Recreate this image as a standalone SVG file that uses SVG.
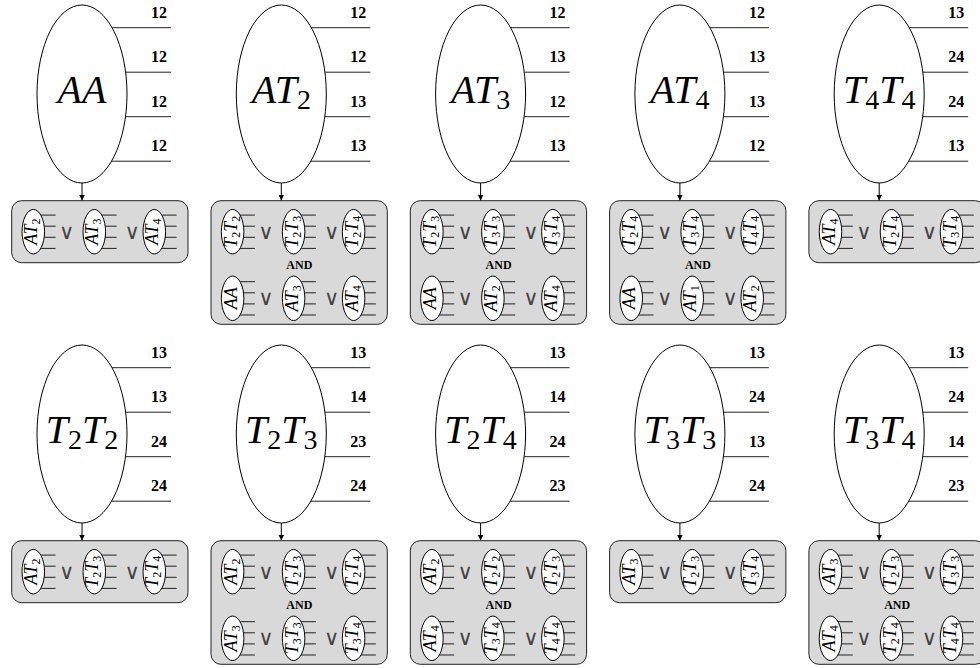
<svg xmlns="http://www.w3.org/2000/svg" xmlns:xlink="http://www.w3.org/1999/xlink" width="980" height="668" viewBox="0 0 980 668">
<style>
text{font-family:"Liberation Serif","Times New Roman",Times,serif}
.big{font-style:italic;font-size:40px;text-anchor:middle;fill:#000}
.bs{font-style:normal;font-size:28px}
.lbl{font-weight:bold;font-size:16px;text-anchor:end;fill:#000}
.sm{font-style:italic;font-size:18px;text-anchor:middle;fill:#000}
.ss{font-style:normal;font-size:12px}
.or{font-family:"DejaVu Sans",sans-serif;font-size:21px;text-anchor:middle;fill:#444}
.and{font-weight:bold;font-size:12px;text-anchor:middle;fill:#000}
.box{fill:#d9d9d9;stroke:#222;stroke-width:1}
.conn line{stroke:#000;stroke-width:1}
</style>
<defs>
<marker id="ah" markerUnits="userSpaceOnUse" markerWidth="6" markerHeight="6" refX="6" refY="3" orient="auto"><path d="M0,0L6,3L0,6z" fill="#000"/></marker>
<g id="big"><ellipse cx="82" cy="94" rx="45" ry="89" fill="#fff" stroke="#000" stroke-width="1"/><path d="M112,27.7H171M125.6,72.2H171M125.5,116.7H171M111.5,161.2H171" stroke="#222" stroke-width="1" fill="none"/></g>
<g id="sm"><ellipse rx="11.25" ry="22.25" fill="#fff" stroke="#000" stroke-width="1"/><path d="M7.5,-16.6H22.3M10.9,-5.5H22.3M10.8,5.6H22.3M7.4,16.7H22.3" stroke="#222" stroke-width="1" fill="none"/></g>
<g id="sbox"><rect class="box" x="11.7" y="200.7" width="176.3" height="62" rx="10"/><text class="or" x="66.7" y="238.5">∨</text><text class="or" x="132.3" y="238.5">∨</text><use xlink:href="#sm" x="33.3" y="231.7"/><use xlink:href="#sm" x="94.3" y="231.7"/><use xlink:href="#sm" x="154.3" y="231.7"/></g>
<g id="abox"><rect class="box" x="11.7" y="200.7" width="176.3" height="123.6" rx="10"/><text class="or" x="66.7" y="238.5">∨</text><text class="or" x="132.3" y="238.5">∨</text><text class="or" x="66.7" y="305.1">∨</text><text class="or" x="132.3" y="305.1">∨</text><text class="and" x="100" y="268.5">AND</text><use xlink:href="#sm" x="33.3" y="231.7"/><use xlink:href="#sm" x="94.3" y="231.7"/><use xlink:href="#sm" x="154.3" y="231.7"/><use xlink:href="#sm" x="33.3" y="298.3"/><use xlink:href="#sm" x="94.3" y="298.3"/><use xlink:href="#sm" x="154.3" y="298.3"/></g>
</defs>
<rect width="980" height="668" fill="#fff"/>

<g class="conn" id="connectors">
<line x1="82" y1="183" x2="82" y2="200.5" marker-end="url(#ah)"/>
<line x1="281.3" y1="183" x2="281.3" y2="200.5" marker-end="url(#ah)"/>
<line x1="480.6" y1="183" x2="480.6" y2="200.5" marker-end="url(#ah)"/>
<line x1="679.9" y1="183" x2="679.9" y2="200.5" marker-end="url(#ah)"/>
<line x1="879.2" y1="183" x2="879.2" y2="200.5" marker-end="url(#ah)"/>
<line x1="82" y1="523" x2="82" y2="540.5" marker-end="url(#ah)"/>
<line x1="281.3" y1="523" x2="281.3" y2="540.5" marker-end="url(#ah)"/>
<line x1="480.6" y1="523" x2="480.6" y2="540.5" marker-end="url(#ah)"/>
<line x1="679.9" y1="523" x2="679.9" y2="540.5" marker-end="url(#ah)"/>
<line x1="879.2" y1="523" x2="879.2" y2="540.5" marker-end="url(#ah)"/>
</g>

<!-- Row 1 -->
<g id="node-AA" transform="translate(0,0)">
<use xlink:href="#big"/>
<text class="big" x="82" y="103">AA</text>
<text class="lbl" x="167" y="18">12</text><text class="lbl" x="167" y="62.3">12</text><text class="lbl" x="167" y="106.7">12</text><text class="lbl" x="167" y="151.2">12</text>
</g>
<g id="box-AA" transform="translate(0,0)">
<use xlink:href="#sbox"/>
<text class="sm" transform="translate(33.3,231.7) rotate(-90)" y="4">AT<tspan class="ss" dy="3">2</tspan></text>
<text class="sm" transform="translate(94.3,231.7) rotate(-90)" y="4">AT<tspan class="ss" dy="3">3</tspan></text>
<text class="sm" transform="translate(154.3,231.7) rotate(-90)" y="4">AT<tspan class="ss" dy="3">4</tspan></text>
</g>

<g id="node-AT2" transform="translate(199.3,0)">
<use xlink:href="#big"/>
<text class="big" x="82" y="103">AT<tspan class="bs" dy="6">2</tspan></text>
<text class="lbl" x="167" y="18">12</text><text class="lbl" x="167" y="62.3">12</text><text class="lbl" x="167" y="106.7">13</text><text class="lbl" x="167" y="151.2">13</text>
</g>
<g id="box-AT2" transform="translate(199.3,0)">
<use xlink:href="#abox"/>
<text class="sm" transform="translate(33.3,231.7) rotate(-90)" y="4">T<tspan class="ss" dy="3">2</tspan><tspan dy="-3">T</tspan><tspan class="ss" dy="3">2</tspan></text>
<text class="sm" transform="translate(94.3,231.7) rotate(-90)" y="4">T<tspan class="ss" dy="3">2</tspan><tspan dy="-3">T</tspan><tspan class="ss" dy="3">3</tspan></text>
<text class="sm" transform="translate(154.3,231.7) rotate(-90)" y="4">T<tspan class="ss" dy="3">2</tspan><tspan dy="-3">T</tspan><tspan class="ss" dy="3">4</tspan></text>
<text class="sm" transform="translate(33.3,298.3) rotate(-90)" y="4">AA</text>
<text class="sm" transform="translate(94.3,298.3) rotate(-90)" y="4">AT<tspan class="ss" dy="3">3</tspan></text>
<text class="sm" transform="translate(154.3,298.3) rotate(-90)" y="4">AT<tspan class="ss" dy="3">4</tspan></text>
</g>

<g id="node-AT3" transform="translate(398.6,0)">
<use xlink:href="#big"/>
<text class="big" x="82" y="103">AT<tspan class="bs" dy="6">3</tspan></text>
<text class="lbl" x="167" y="18">12</text><text class="lbl" x="167" y="62.3">13</text><text class="lbl" x="167" y="106.7">12</text><text class="lbl" x="167" y="151.2">13</text>
</g>
<g id="box-AT3" transform="translate(398.6,0)">
<use xlink:href="#abox"/>
<text class="sm" transform="translate(33.3,231.7) rotate(-90)" y="4">T<tspan class="ss" dy="3">2</tspan><tspan dy="-3">T</tspan><tspan class="ss" dy="3">3</tspan></text>
<text class="sm" transform="translate(94.3,231.7) rotate(-90)" y="4">T<tspan class="ss" dy="3">3</tspan><tspan dy="-3">T</tspan><tspan class="ss" dy="3">3</tspan></text>
<text class="sm" transform="translate(154.3,231.7) rotate(-90)" y="4">T<tspan class="ss" dy="3">3</tspan><tspan dy="-3">T</tspan><tspan class="ss" dy="3">4</tspan></text>
<text class="sm" transform="translate(33.3,298.3) rotate(-90)" y="4">AA</text>
<text class="sm" transform="translate(94.3,298.3) rotate(-90)" y="4">AT<tspan class="ss" dy="3">2</tspan></text>
<text class="sm" transform="translate(154.3,298.3) rotate(-90)" y="4">AT<tspan class="ss" dy="3">4</tspan></text>
</g>

<g id="node-AT4" transform="translate(597.9,0)">
<use xlink:href="#big"/>
<text class="big" x="82" y="103">AT<tspan class="bs" dy="6">4</tspan></text>
<text class="lbl" x="167" y="18">12</text><text class="lbl" x="167" y="62.3">13</text><text class="lbl" x="167" y="106.7">13</text><text class="lbl" x="167" y="151.2">12</text>
</g>
<g id="box-AT4" transform="translate(597.9,0)">
<use xlink:href="#abox"/>
<text class="sm" transform="translate(33.3,231.7) rotate(-90)" y="4">T<tspan class="ss" dy="3">2</tspan><tspan dy="-3">T</tspan><tspan class="ss" dy="3">4</tspan></text>
<text class="sm" transform="translate(94.3,231.7) rotate(-90)" y="4">T<tspan class="ss" dy="3">3</tspan><tspan dy="-3">T</tspan><tspan class="ss" dy="3">4</tspan></text>
<text class="sm" transform="translate(154.3,231.7) rotate(-90)" y="4">T<tspan class="ss" dy="3">4</tspan><tspan dy="-3">T</tspan><tspan class="ss" dy="3">4</tspan></text>
<text class="sm" transform="translate(33.3,298.3) rotate(-90)" y="4">AA</text>
<text class="sm" transform="translate(94.3,298.3) rotate(-90)" y="4">AT<tspan class="ss" dy="3">1</tspan></text>
<text class="sm" transform="translate(154.3,298.3) rotate(-90)" y="4">AT<tspan class="ss" dy="3">2</tspan></text>
</g>

<g id="node-T4T4" transform="translate(797.2,0)">
<use xlink:href="#big"/>
<text class="big" x="82" y="103">T<tspan class="bs" dy="6">4</tspan><tspan dy="-6">T</tspan><tspan class="bs" dy="6">4</tspan></text>
<text class="lbl" x="167" y="18">13</text><text class="lbl" x="167" y="62.3">24</text><text class="lbl" x="167" y="106.7">24</text><text class="lbl" x="167" y="151.2">13</text>
</g>
<g id="box-T4T4" transform="translate(797.2,0)">
<use xlink:href="#sbox"/>
<text class="sm" transform="translate(33.3,231.7) rotate(-90)" y="4">AT<tspan class="ss" dy="3">4</tspan></text>
<text class="sm" transform="translate(94.3,231.7) rotate(-90)" y="4">T<tspan class="ss" dy="3">2</tspan><tspan dy="-3">T</tspan><tspan class="ss" dy="3">4</tspan></text>
<text class="sm" transform="translate(154.3,231.7) rotate(-90)" y="4">T<tspan class="ss" dy="3">3</tspan><tspan dy="-3">T</tspan><tspan class="ss" dy="3">4</tspan></text>
</g>

<!-- Row 2 -->
<g id="node-T2T2" transform="translate(0,340)">
<use xlink:href="#big"/>
<text class="big" x="82" y="103">T<tspan class="bs" dy="6">2</tspan><tspan dy="-6">T</tspan><tspan class="bs" dy="6">2</tspan></text>
<text class="lbl" x="167" y="18">13</text><text class="lbl" x="167" y="62.3">13</text><text class="lbl" x="167" y="106.7">24</text><text class="lbl" x="167" y="151.2">24</text>
</g>
<g id="box-T2T2" transform="translate(0,340)">
<use xlink:href="#sbox"/>
<text class="sm" transform="translate(33.3,231.7) rotate(-90)" y="4">AT<tspan class="ss" dy="3">2</tspan></text>
<text class="sm" transform="translate(94.3,231.7) rotate(-90)" y="4">T<tspan class="ss" dy="3">2</tspan><tspan dy="-3">T</tspan><tspan class="ss" dy="3">3</tspan></text>
<text class="sm" transform="translate(154.3,231.7) rotate(-90)" y="4">T<tspan class="ss" dy="3">2</tspan><tspan dy="-3">T</tspan><tspan class="ss" dy="3">4</tspan></text>
</g>

<g id="node-T2T3" transform="translate(199.3,340)">
<use xlink:href="#big"/>
<text class="big" x="82" y="103">T<tspan class="bs" dy="6">2</tspan><tspan dy="-6">T</tspan><tspan class="bs" dy="6">3</tspan></text>
<text class="lbl" x="167" y="18">13</text><text class="lbl" x="167" y="62.3">14</text><text class="lbl" x="167" y="106.7">23</text><text class="lbl" x="167" y="151.2">24</text>
</g>
<g id="box-T2T3" transform="translate(199.3,340)">
<use xlink:href="#abox"/>
<text class="sm" transform="translate(33.3,231.7) rotate(-90)" y="4">AT<tspan class="ss" dy="3">2</tspan></text>
<text class="sm" transform="translate(94.3,231.7) rotate(-90)" y="4">T<tspan class="ss" dy="3">2</tspan><tspan dy="-3">T</tspan><tspan class="ss" dy="3">3</tspan></text>
<text class="sm" transform="translate(154.3,231.7) rotate(-90)" y="4">T<tspan class="ss" dy="3">2</tspan><tspan dy="-3">T</tspan><tspan class="ss" dy="3">4</tspan></text>
<text class="sm" transform="translate(33.3,298.3) rotate(-90)" y="4">AT<tspan class="ss" dy="3">3</tspan></text>
<text class="sm" transform="translate(94.3,298.3) rotate(-90)" y="4">T<tspan class="ss" dy="3">3</tspan><tspan dy="-3">T</tspan><tspan class="ss" dy="3">3</tspan></text>
<text class="sm" transform="translate(154.3,298.3) rotate(-90)" y="4">T<tspan class="ss" dy="3">3</tspan><tspan dy="-3">T</tspan><tspan class="ss" dy="3">4</tspan></text>
</g>

<g id="node-T2T4" transform="translate(398.6,340)">
<use xlink:href="#big"/>
<text class="big" x="82" y="103">T<tspan class="bs" dy="6">2</tspan><tspan dy="-6">T</tspan><tspan class="bs" dy="6">4</tspan></text>
<text class="lbl" x="167" y="18">13</text><text class="lbl" x="167" y="62.3">14</text><text class="lbl" x="167" y="106.7">24</text><text class="lbl" x="167" y="151.2">23</text>
</g>
<g id="box-T2T4" transform="translate(398.6,340)">
<use xlink:href="#abox"/>
<text class="sm" transform="translate(33.3,231.7) rotate(-90)" y="4">AT<tspan class="ss" dy="3">2</tspan></text>
<text class="sm" transform="translate(94.3,231.7) rotate(-90)" y="4">T<tspan class="ss" dy="3">2</tspan><tspan dy="-3">T</tspan><tspan class="ss" dy="3">2</tspan></text>
<text class="sm" transform="translate(154.3,231.7) rotate(-90)" y="4">T<tspan class="ss" dy="3">2</tspan><tspan dy="-3">T</tspan><tspan class="ss" dy="3">3</tspan></text>
<text class="sm" transform="translate(33.3,298.3) rotate(-90)" y="4">AT<tspan class="ss" dy="3">4</tspan></text>
<text class="sm" transform="translate(94.3,298.3) rotate(-90)" y="4">T<tspan class="ss" dy="3">3</tspan><tspan dy="-3">T</tspan><tspan class="ss" dy="3">4</tspan></text>
<text class="sm" transform="translate(154.3,298.3) rotate(-90)" y="4">T<tspan class="ss" dy="3">4</tspan><tspan dy="-3">T</tspan><tspan class="ss" dy="3">4</tspan></text>
</g>

<g id="node-T3T3" transform="translate(597.9,340)">
<use xlink:href="#big"/>
<text class="big" x="82" y="103">T<tspan class="bs" dy="6">3</tspan><tspan dy="-6">T</tspan><tspan class="bs" dy="6">3</tspan></text>
<text class="lbl" x="167" y="18">13</text><text class="lbl" x="167" y="62.3">24</text><text class="lbl" x="167" y="106.7">13</text><text class="lbl" x="167" y="151.2">24</text>
</g>
<g id="box-T3T3" transform="translate(597.9,340)">
<use xlink:href="#sbox"/>
<text class="sm" transform="translate(33.3,231.7) rotate(-90)" y="4">AT<tspan class="ss" dy="3">3</tspan></text>
<text class="sm" transform="translate(94.3,231.7) rotate(-90)" y="4">T<tspan class="ss" dy="3">2</tspan><tspan dy="-3">T</tspan><tspan class="ss" dy="3">3</tspan></text>
<text class="sm" transform="translate(154.3,231.7) rotate(-90)" y="4">T<tspan class="ss" dy="3">3</tspan><tspan dy="-3">T</tspan><tspan class="ss" dy="3">4</tspan></text>
</g>

<g id="node-T3T4" transform="translate(797.2,340)">
<use xlink:href="#big"/>
<text class="big" x="82" y="103">T<tspan class="bs" dy="6">3</tspan><tspan dy="-6">T</tspan><tspan class="bs" dy="6">4</tspan></text>
<text class="lbl" x="167" y="18">13</text><text class="lbl" x="167" y="62.3">24</text><text class="lbl" x="167" y="106.7">14</text><text class="lbl" x="167" y="151.2">23</text>
</g>
<g id="box-T3T4" transform="translate(797.2,340)">
<use xlink:href="#abox"/>
<text class="sm" transform="translate(33.3,231.7) rotate(-90)" y="4">AT<tspan class="ss" dy="3">3</tspan></text>
<text class="sm" transform="translate(94.3,231.7) rotate(-90)" y="4">T<tspan class="ss" dy="3">2</tspan><tspan dy="-3">T</tspan><tspan class="ss" dy="3">3</tspan></text>
<text class="sm" transform="translate(154.3,231.7) rotate(-90)" y="4">T<tspan class="ss" dy="3">3</tspan><tspan dy="-3">T</tspan><tspan class="ss" dy="3">3</tspan></text>
<text class="sm" transform="translate(33.3,298.3) rotate(-90)" y="4">AT<tspan class="ss" dy="3">4</tspan></text>
<text class="sm" transform="translate(94.3,298.3) rotate(-90)" y="4">T<tspan class="ss" dy="3">2</tspan><tspan dy="-3">T</tspan><tspan class="ss" dy="3">4</tspan></text>
<text class="sm" transform="translate(154.3,298.3) rotate(-90)" y="4">T<tspan class="ss" dy="3">4</tspan><tspan dy="-3">T</tspan><tspan class="ss" dy="3">4</tspan></text>
</g>
</svg>
